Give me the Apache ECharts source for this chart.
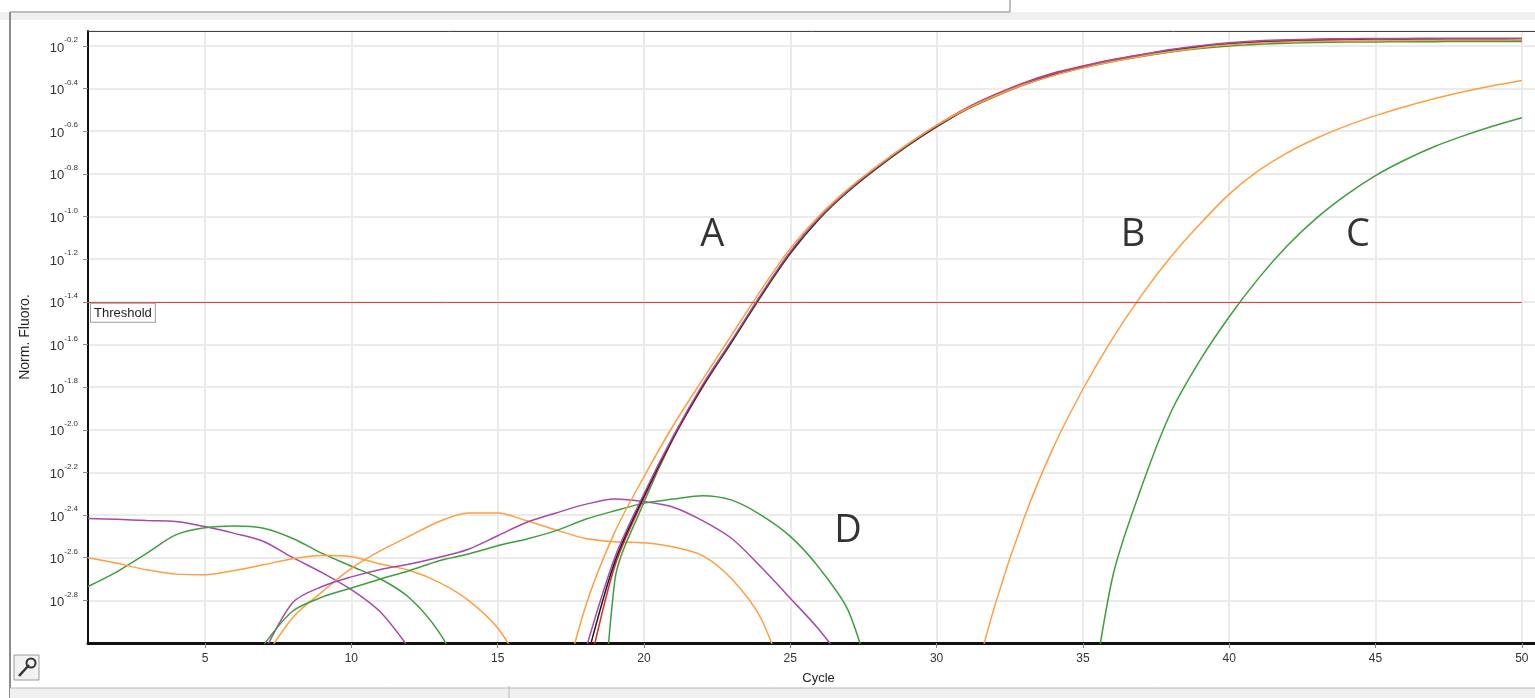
<!DOCTYPE html>
<html>
<head>
<meta charset="utf-8">
<title>Norm. Fluoro. vs Cycle</title>
<style>
  html, body { margin: 0; padding: 0; background: #fff; }
  #chart { width: 1535px; height: 698px; }
</style>
<script src="https://cdn.jsdelivr.net/npm/echarts@6/dist/echarts.min.js"></script>
</head>
<body>
<div id="chart"></div>
<script>
  // x axis: cycle number, y axis: log10 of normalised fluorescence
  var cycleTicks = [5, 10, 15, 20, 25, 30, 35, 40, 45, 50];
  var thresholdLevel = -1.4;

  // each curve = first cycle + one log10 value per cycle
  // group A (early amplification)
  var aOrangeStart = 17;
  var aOrange = [-3.34, -2.83, -2.48, -2.22, -1.98, -1.765, -1.555, -1.345, -1.15, -0.995, -0.868, -0.76, -0.662, -0.573,
    -0.497, -0.435, -0.381, -0.338, -0.303, -0.273, -0.248, -0.226, -0.208, -0.195, -0.186, -0.181, -0.178, -0.176,
    -0.175, -0.174, -0.173, -0.172, -0.172, -0.171];
  var aPurpleStart = 18;
  var aPurple = [-3.035, -2.60, -2.30, -2.03, -1.79, -1.58, -1.365, -1.165, -1.005, -0.875, -0.765, -0.665, -0.575,
    -0.495, -0.43, -0.375, -0.33, -0.297, -0.266, -0.241, -0.217, -0.199, -0.185, -0.176, -0.171, -0.168, -0.166,
    -0.165, -0.165, -0.164, -0.164, -0.164, -0.164];
  var aGreenStart = 18;
  var aGreen = [-4.7, -2.71, -2.34, -2.04, -1.80, -1.59, -1.375, -1.175, -1.01, -0.88, -0.77, -0.67, -0.58, -0.50,
    -0.437, -0.382, -0.338, -0.303, -0.274, -0.25, -0.229, -0.212, -0.2, -0.192, -0.187, -0.184, -0.182, -0.181,
    -0.18, -0.18, -0.179, -0.179, -0.179];
  var aBlackStart = 18;
  var aBlack = [-3.1, -2.62, -2.31, -2.035, -1.795, -1.585, -1.37, -1.17, -1.008, -0.878, -0.768, -0.668, -0.578,
    -0.498, -0.434, -0.379, -0.334, -0.3, -0.27, -0.245, -0.222, -0.205, -0.192, -0.184, -0.179, -0.176, -0.174,
    -0.173, -0.172, -0.172, -0.171, -0.171, -0.171];
  var aRedStart = 18;
  var aRed = [-3.2, -2.64, -2.32, -2.04, -1.80, -1.585, -1.37, -1.168, -1.005, -0.874, -0.763, -0.663, -0.573,
    -0.493, -0.428, -0.372, -0.327, -0.294, -0.265, -0.241, -0.219, -0.202, -0.189, -0.18, -0.174, -0.171, -0.169,
    -0.168, -0.167, -0.167, -0.167, -0.167, -0.167];

  // B and C (late amplification)
  var bStart = 31;
  var bOrange = [-3.33, -2.82, -2.41, -2.08, -1.81, -1.575, -1.37, -1.19, -1.035, -0.895, -0.785, -0.70, -0.632,
    -0.575, -0.527, -0.485, -0.448, -0.415, -0.387, -0.362];
  var cStart = 35;
  var cGreen = [-3.55, -2.70, -2.27, -1.92, -1.675, -1.47, -1.29, -1.135, -1.005, -0.898, -0.808, -0.735, -0.673,
    -0.622, -0.577, -0.537];

  // D (no amplification, baseline noise)
  var dPurple1Start = 1;
  var dPurple1 = [-2.416, -2.42, -2.426, -2.43, -2.454, -2.486, -2.524, -2.60, -2.67, -2.75, -2.856, -3.03];
  var dGreen1Start = 1;
  var dGreen1 = [-2.735, -2.665, -2.58, -2.493, -2.46, -2.451, -2.462, -2.51, -2.58, -2.64, -2.70, -2.79, -2.95, -3.2];
  var dOrange1Start = 1;
  var dOrange1 = [-2.60, -2.626, -2.657, -2.677, -2.68, -2.66, -2.633, -2.605, -2.59, -2.595, -2.63, -2.66, -2.716,
    -2.80, -2.93, -3.15];
  var dOrange2Start = 7;
  var dOrange2 = [-3.08, -2.88, -2.76, -2.65, -2.567, -2.498, -2.43, -2.39, -2.39, -2.427, -2.47, -2.51, -2.525,
    -2.53, -2.55, -2.59, -2.70, -2.885, -3.25];
  var dPurple2Start = 7;
  var dPurple2 = [-3.05, -2.81, -2.735, -2.69, -2.655, -2.63, -2.598, -2.56, -2.497, -2.434, -2.39, -2.35, -2.325,
    -2.337, -2.363, -2.426, -2.51, -2.644, -2.79, -2.94, -3.12];
  var dGreen2Start = 7;
  var dGreen2 = [-3.01, -2.85, -2.785, -2.742, -2.70, -2.66, -2.614, -2.583, -2.544, -2.512, -2.473, -2.42, -2.38,
    -2.344, -2.325, -2.309, -2.33, -2.40, -2.50, -2.65, -2.854, -3.3];

  // annotation letters
  var letterNames = ['A', 'B', 'C', 'D'];
  var letterCycles = [22.33, 36.71, 44.40, 26.97];
  var letterLevels = [-1.088, -1.088, -1.088, -2.475];

  var ORANGE = '#ff9f40', PURPLE = '#a64aa8', GREEN = '#3d9f3d', BLACK = '#1c1c1c', RED = '#e2262a';

  function pairs(start, vals) {
    return vals.map(function (v, i) { return [start + i, v]; });
  }
  function curve(name, color, start, vals) {
    return {
      name: name, type: 'line', data: pairs(start, vals),
      showSymbol: false, symbol: 'none', clip: true, silent: true,
      smooth: 0.3,
      lineStyle: { color: color, width: 1.5 }, itemStyle: { color: color }
    };
  }

  var series = [
    curve('D purple 1', PURPLE, dPurple1Start, dPurple1),
    curve('D green 1', GREEN, dGreen1Start, dGreen1),
    curve('D orange 1', ORANGE, dOrange1Start, dOrange1),
    curve('D orange 2', ORANGE, dOrange2Start, dOrange2),
    curve('D purple 2', PURPLE, dPurple2Start, dPurple2),
    curve('D green 2', GREEN, dGreen2Start, dGreen2),
    curve('B', ORANGE, bStart, bOrange),
    curve('C', GREEN, cStart, cGreen),
    curve('A green', GREEN, aGreenStart, aGreen),
    curve('A red', RED, aRedStart, aRed),
    curve('A black', BLACK, aBlackStart, aBlack),
    curve('A purple', PURPLE, aPurpleStart, aPurple),
    curve('A orange', ORANGE, aOrangeStart, aOrange)
  ];

  series[0].markLine = {
    silent: true, symbol: ['none', 'none'], animation: false,
    lineStyle: { color: '#f23c3c', width: 1, type: 'solid' },
    label: {
      show: true, position: 'insideStartBottom', formatter: 'Threshold',
      fontFamily: 'Liberation Sans', fontSize: 13, color: '#222',
      backgroundColor: '#fff', borderColor: '#9a9a9a', borderWidth: 1,
      padding: [3, 3, 2, 3], distance: [3, 2]
    },
    data: [[{ coord: [1, thresholdLevel] }, { coord: [50, thresholdLevel] }]]
  };

  series.push({
    name: 'labels', type: 'scatter', silent: true, symbolSize: 1,
    itemStyle: { color: 'transparent' },
    data: letterNames.map(function (n, i) { return { name: n, value: [letterCycles[i], letterLevels[i]] }; }),
    label: {
      show: true, position: 'inside', formatter: '{b}',
      fontFamily: 'Open Sans', fontSize: 38, color: '#000'
    }
  });

  var chart = echarts.init(document.getElementById('chart'));
  var option = {
    animation: false,
    backgroundColor: '#fff',
    grid: { left: 88, right: 0, top: 31, bottom: 55, containLabel: false },
    xAxis: [{
      type: 'value', min: 1, max: 50.45,
      name: 'Cycle', nameLocation: 'middle', nameGap: 29,
      nameTextStyle: { fontFamily: 'Liberation Sans', fontSize: 13, color: '#222', padding: [0, 0, 0, 14] },
      axisLine: { onZero: false, lineStyle: { color: '#111', width: 3 } },
      axisTick: { customValues: cycleTicks, length: 5, lineStyle: { color: '#888' } },
      axisLabel: { customValues: cycleTicks, margin: 10, fontFamily: 'Liberation Sans', fontSize: 12, color: '#333' },
      splitLine: { show: true, lineStyle: { color: '#ebebeb', width: 2 } }
    }, {
      type: 'value', position: 'top', min: 1, max: 50.45,
      axisLine: { show: true, onZero: false, lineStyle: { color: '#444', width: 1 } },
      axisTick: { show: false }, axisLabel: { show: false }, splitLine: { show: false }
    }],
    yAxis: {
      type: 'value', min: -3.0, max: -0.13, interval: 0.2,
      name: 'Norm. Fluoro.', nameLocation: 'middle', nameGap: 56, nameRotate: 90,
      nameTextStyle: { fontFamily: 'Liberation Sans', fontSize: 14, color: '#222' },
      axisLine: { show: true, onZero: false, lineStyle: { color: '#111', width: 2 } },
      axisTick: { show: true, length: 5, lineStyle: { color: '#888' } },
      axisLabel: {
        showMinLabel: false, showMaxLabel: false, margin: 10,
        formatter: function (v) { return '{b|10}{s|' + v.toFixed(1) + '}'; },
        rich: {
          b: { fontFamily: 'Liberation Sans', fontSize: 13, color: '#333', padding: [4, 0, 0, 0] },
          s: { fontFamily: 'Liberation Sans', fontSize: 8, color: '#333', padding: [0, 0, 12, 0] }
        }
      },
      splitLine: { show: true, lineStyle: { color: '#ebebeb', width: 2 } }
    },
    graphic: [
      { type: 'rect', shape: { x: 0, y: 12, width: 1535, height: 8 }, style: { fill: '#efefef' }, silent: true },
      { type: 'line', shape: { x1: 10, y1: 12, x2: 1010, y2: 12 }, style: { stroke: '#a8a8a8', lineWidth: 1.5 }, silent: true },
      { type: 'line', shape: { x1: 1010, y1: 0, x2: 1010, y2: 12 }, style: { stroke: '#a8a8a8', lineWidth: 1.5 }, silent: true },
      { type: 'line', shape: { x1: 10, y1: 12, x2: 10, y2: 698 }, style: { stroke: '#8c8c8c', lineWidth: 2 }, silent: true },
      { type: 'rect', shape: { x: 10, y: 688, width: 1525, height: 10 }, style: { fill: '#f0f0f0' }, silent: true },
      { type: 'line', shape: { x1: 10, y1: 688, x2: 1535, y2: 688 }, style: { stroke: '#b8b8b8', lineWidth: 1 }, silent: true },
      { type: 'line', shape: { x1: 509, y1: 686, x2: 509, y2: 698 }, style: { stroke: '#b8b8b8', lineWidth: 1 }, silent: true },
      { type: 'rect', shape: { x: 14, y: 655, width: 25, height: 25 }, style: { fill: '#f2f2f2', stroke: '#9c9c9c', lineWidth: 1 }, silent: true },
      { type: 'line', shape: { x1: 19, y1: 676, x2: 29, y2: 665 }, style: { stroke: '#333', lineWidth: 2.5 }, silent: true },
      { type: 'circle', shape: { cx: 31, cy: 663, r: 4.5 }, style: { fill: 'none', stroke: '#333', lineWidth: 2 }, silent: true }
    ],
    series: series
  };
  chart.setOption(option);
  window.addEventListener('resize', function () { chart.resize(); });
</script>
</body>
</html>
